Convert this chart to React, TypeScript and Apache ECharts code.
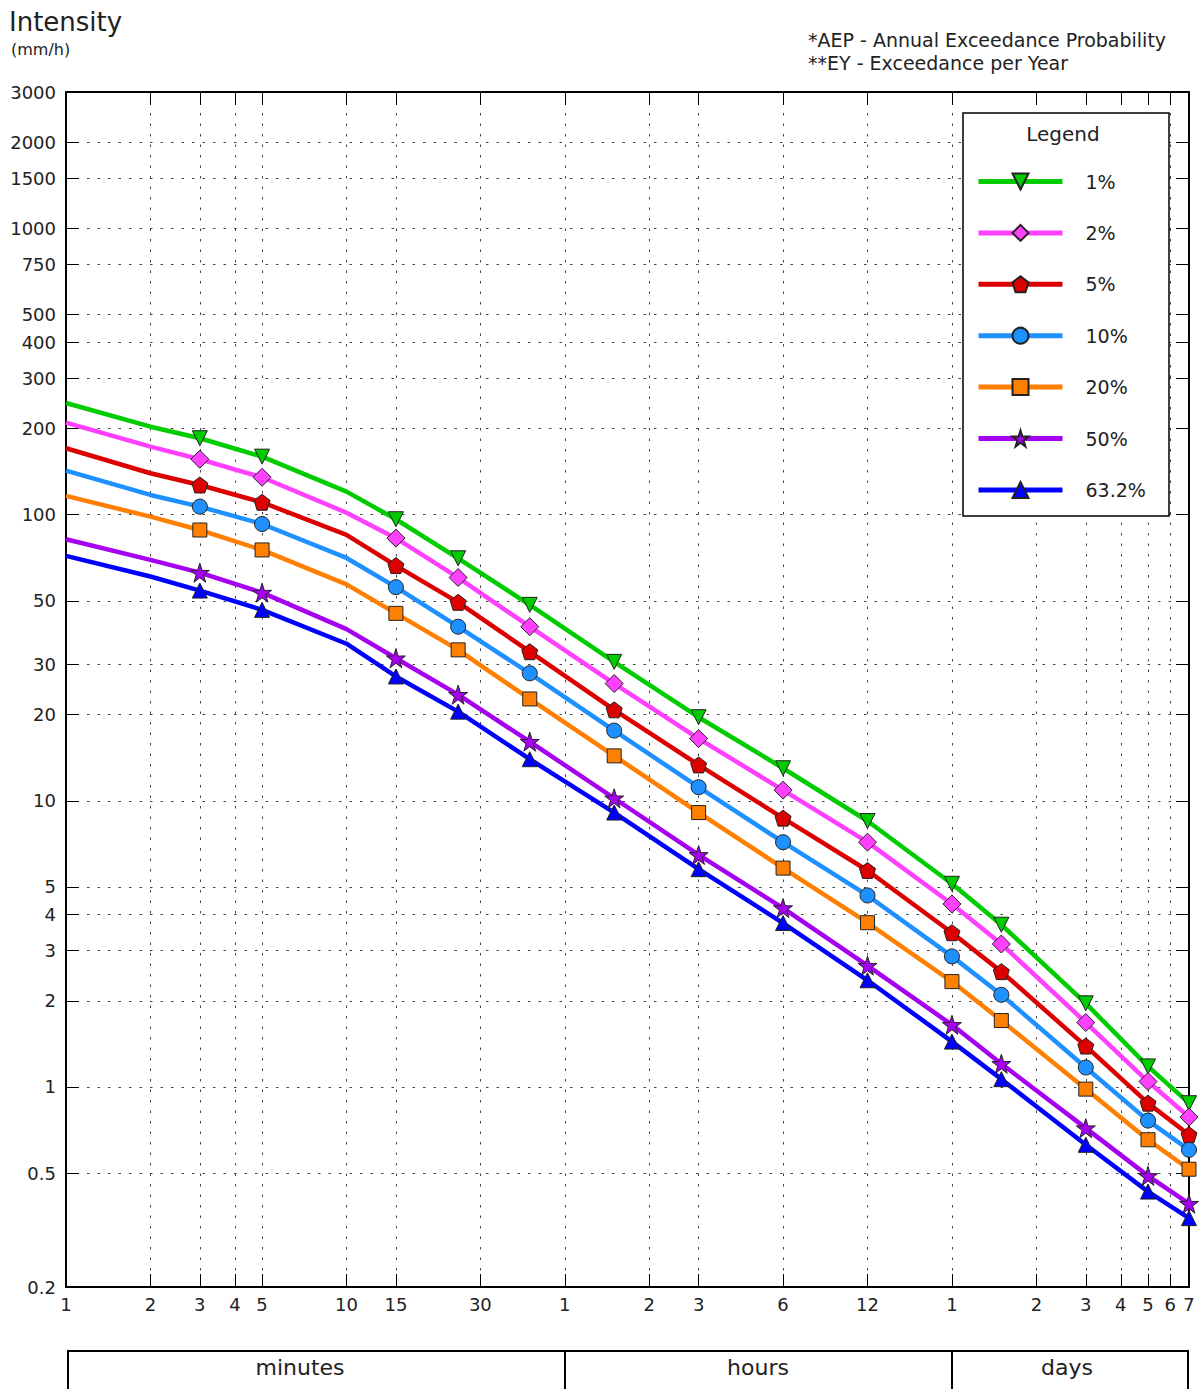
import React, { useEffect, useRef } from "react";
import * as echarts from "echarts";

// Durations in minutes
const durations = [1, 2, 3, 5, 10, 15, 25, 45, 90, 180, 360, 720, 1440, 2160, 4320, 7200, 10080];
// durations that carry no marker (line only)
const markerless = [1, 2, 10];

const aepLabels = ["1%", "2%", "5%", "10%", "20%", "50%", "63.2%"];
const aep1 = [245.7, 203.0, 185.0, 159.5, 120.4, 96.4, 70.4, 48.4, 30.6, 19.6, 13.0, 8.5, 5.13, 3.69, 1.96, 1.18, 0.878];
const aep2 = [209.7, 172.9, 156.2, 135.1, 101.6, 82.8, 60.3, 40.6, 25.7, 16.5, 10.9, 7.17, 4.36, 3.16, 1.68, 1.045, 0.785];
const aep5 = [170.7, 139.6, 127.0, 110.5, 85.0, 66.4, 49.4, 33.2, 20.8, 13.35, 8.7, 5.71, 3.46, 2.53, 1.39, 0.878, 0.681];
const aep10 = [142.5, 117.2, 106.7, 92.8, 70.6, 55.8, 40.6, 27.9, 17.6, 11.16, 7.17, 4.67, 2.86, 2.1, 1.17, 0.763, 0.603];
const aep20 = [116.3, 98.4, 88.4, 75.3, 57.1, 45.2, 33.7, 22.7, 14.36, 9.1, 5.82, 3.75, 2.335, 1.707, 0.983, 0.654, 0.516];
const aep50 = [82.1, 69.5, 62.7, 53.4, 39.8, 31.5, 23.5, 16.1, 10.21, 6.47, 4.22, 2.655, 1.649, 1.205, 0.718, 0.489, 0.391];
const aep632 = [71.8, 60.8, 54.3, 46.5, 35.4, 27.2, 20.5, 13.98, 9.1, 5.77, 3.74, 2.36, 1.441, 1.065, 0.628, 0.431, 0.348];

const seriesValues = [aep1, aep2, aep5, aep10, aep20, aep50, aep632];
const seriesColors = ["#00cc00", "#ff40ff", "#dd0000", "#1e90ff", "#ff7f00", "#a600f0", "#0000ff"];

const xTickValues = [1, 2, 3, 4, 5, 10, 15, 30, 60, 120, 180, 360, 720, 1440, 2880, 4320, 5760, 7200, 8640, 10080];
const xTickLabels = ["1", "2", "3", "4", "5", "10", "15", "30", "1", "2", "3", "6", "12", "1", "2", "3", "4", "5", "6", "7"];
const yTickValues = [0.2, 0.5, 1, 2, 3, 4, 5, 10, 20, 30, 50, 100, 200, 300, 400, 500, 750, 1000, 1500, 2000, 3000];
const yTickLabels = ["0.2", "0.5", "1", "2", "3", "4", "5", "10", "20", "30", "50", "100", "200", "300", "400", "500", "750", "1000", "1500", "2000", "3000"];

const unitLabels = ["minutes", "hours", "days"];

const pentagon = "path://M0,-10L9.511,-3.09L5.878,8.09L-5.878,8.09L-9.511,-3.09Z";
const star =
  "path://M0,-10L2.245,-3.09L9.511,-3.09L3.633,1.18L5.878,8.09L0,3.82L-5.878,8.09L-3.633,1.18L-9.511,-3.09L-2.245,-3.09Z";

const symbols = [
  { symbol: "triangle", size: 15, rotate: 180 },
  { symbol: "diamond", size: 18, rotate: 0 },
  { symbol: pentagon, size: 16, rotate: 0 },
  { symbol: "circle", size: 15, rotate: 0 },
  { symbol: "rect", size: 14, rotate: 0 },
  { symbol: star, size: 19, rotate: 0 },
  { symbol: "triangle", size: 15, rotate: 0 },
];

const FONT = "'DejaVu Sans', sans-serif";
const lg = (v: number) => Math.log10(v);

function labelFor(values: number[], labels: string[], v: number) {
  for (let i = 0; i < values.length; i++) {
    if (Math.abs(lg(values[i]) - v) < 1e-6) return labels[i];
  }
  return "";
}

export default function App() {
  const ref = useRef<HTMLDivElement>(null);

  useEffect(() => {
    if (!ref.current) return;
    const chart = echarts.init(ref.current, null, { renderer: "svg" });

    const xMin = 0;
    const xMax = lg(10080);
    const yMin = lg(0.2);
    const yMax = lg(3000);
    const xTicks = xTickValues.map(lg);
    const yTicks = yTickValues.map(lg);

    const gridLine = { show: true, lineStyle: { color: "#444", width: 1, type: [2.5, 8] as any } };
    const tickStyle = { show: true, inside: true, length: 13, lineStyle: { color: "#000", width: 1 } };
    const axisLine = { show: true, onZero: false, lineStyle: { color: "#000", width: 2 } };

    const series = seriesValues.map((vals, si) => ({
      name: aepLabels[si],
      type: "line",
      xAxisIndex: 0,
      yAxisIndex: 0,
      smooth: false,
      symbol: symbols[si].symbol,
      symbolSize: symbols[si].size,
      symbolRotate: symbols[si].rotate,
      showAllSymbol: true,
      lineStyle: { color: seriesColors[si], width: 4.5 },
      itemStyle: { color: seriesColors[si], borderColor: "#222", borderWidth: 1 },
      emphasis: { disabled: true },
      data: durations.map((d, i) => {
        const item: any = { value: [lg(d), lg(vals[i])] };
        if (markerless.includes(d)) item.symbol = "none";
        return item;
      }),
    }));

    chart.setOption({
      animation: false,
      grid: { left: 66, right: 11, top: 92, bottom: 102, outerBoundsMode: "none" },
      xAxis: [
        {
          type: "value",
          position: "bottom",
          min: xMin,
          max: xMax,
          axisLine,
          axisTick: { ...tickStyle, customValues: xTicks },
          splitLine: gridLine,
          axisLabel: {
            customValues: xTicks,
            margin: 8,
            color: "#222",
            fontFamily: FONT,
            fontSize: 18,
            formatter: (v: number) => labelFor(xTickValues, xTickLabels, v),
          },
        },
        {
          type: "value",
          position: "top",
          min: xMin,
          max: xMax,
          axisLine,
          axisTick: { ...tickStyle, customValues: xTicks },
          splitLine: { show: false },
          axisLabel: { show: false },
        },
      ],
      yAxis: [
        {
          type: "value",
          position: "left",
          min: yMin,
          max: yMax,
          axisLine,
          axisTick: { ...tickStyle, customValues: yTicks },
          splitLine: gridLine,
          axisLabel: {
            customValues: yTicks,
            margin: 10,
            color: "#222",
            fontFamily: FONT,
            fontSize: 18,
            formatter: (v: number) => labelFor(yTickValues, yTickLabels, v),
          },
        },
        {
          type: "value",
          position: "right",
          min: yMin,
          max: yMax,
          axisLine,
          axisTick: { ...tickStyle, customValues: yTicks },
          splitLine: { show: false },
          axisLabel: { show: false },
        },
      ],
      legend: {
        show: true,
        orient: "vertical",
        left: 976,
        top: 172,
        padding: 0,
        itemWidth: 84,
        itemHeight: 20,
        itemGap: 32.4,
        selectedMode: false,
        z: 6,
        lineStyle: { width: 5 },
        textStyle: { fontFamily: FONT, fontSize: 19, color: "#222", padding: [0, 0, 0, 18] },
        data: aepLabels,
      },
      graphic: [
        {
          type: "rect",
          z: 5,
          shape: { x: 963, y: 113, width: 206, height: 403 },
          style: { fill: "#fff", stroke: "#000", lineWidth: 1.5 },
        },
        {
          type: "text",
          z: 7,
          x: 1063,
          y: 134,
          style: { text: "Legend", fontFamily: FONT, fontSize: 20, fill: "#222", align: "center", verticalAlign: "middle" },
        },
        {
          type: "text",
          x: 9,
          y: 22,
          style: { text: "Intensity", fontFamily: FONT, fontSize: 26, fill: "#222", verticalAlign: "middle" },
        },
        {
          type: "text",
          x: 11,
          y: 49,
          style: { text: "(mm/h)", fontFamily: FONT, fontSize: 16, fill: "#222", verticalAlign: "middle" },
        },
        {
          type: "text",
          x: 808,
          y: 40,
          style: { text: "*AEP - Annual Exceedance Probability", fontFamily: FONT, fontSize: 19, fill: "#222", verticalAlign: "middle" },
        },
        {
          type: "text",
          x: 808,
          y: 63,
          style: { text: "**EY - Exceedance per Year", fontFamily: FONT, fontSize: 19, fill: "#222", verticalAlign: "middle" },
        },
        {
          type: "rect",
          shape: { x: 68, y: 1351, width: 497, height: 50 },
          style: { fill: "none", stroke: "#000", lineWidth: 2 },
        },
        {
          type: "rect",
          shape: { x: 565, y: 1351, width: 387, height: 50 },
          style: { fill: "none", stroke: "#000", lineWidth: 2 },
        },
        {
          type: "rect",
          shape: { x: 952, y: 1351, width: 236, height: 50 },
          style: { fill: "none", stroke: "#000", lineWidth: 2 },
        },
        {
          type: "text",
          x: 300,
          y: 1367,
          style: { text: unitLabels[0], fontFamily: FONT, fontSize: 22, fill: "#222", align: "center", verticalAlign: "middle" },
        },
        {
          type: "text",
          x: 758,
          y: 1367,
          style: { text: unitLabels[1], fontFamily: FONT, fontSize: 22, fill: "#222", align: "center", verticalAlign: "middle" },
        },
        {
          type: "text",
          x: 1067,
          y: 1367,
          style: { text: unitLabels[2], fontFamily: FONT, fontSize: 22, fill: "#222", align: "center", verticalAlign: "middle" },
        },
      ],
      series,
    });

    return () => chart.dispose();
  }, []);

  return (
    <div
      ref={ref}
      style={{ position: "absolute", left: 0, top: 0, width: 1200, height: 1389, background: "#fff" }}
    />
  );
}
